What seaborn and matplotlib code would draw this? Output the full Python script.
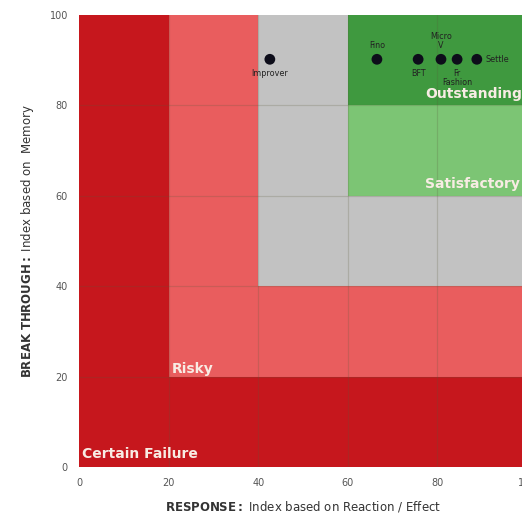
import matplotlib
matplotlib.use('Agg')
import matplotlib.pyplot as plt
import pandas as pd
import seaborn as sns

# zones: drawn largest first, smaller ones on top
zone_names = ['Certain Failure', 'Risky', 'Neutral', 'Satisfactory', 'Outstanding']
zone_x0 = [0, 20, 40, 60, 60]
zone_x1 = [100, 100, 100, 100, 100]
zone_y0 = [0, 20, 40, 60, 80]
zone_y1 = [100, 100, 100, 80, 100]
zone_colors = ['#c6171d', '#e95d5e', '#c2c2c2', '#7cc574', '#3f993f']

# labelled zone text positions
label_text = ['Certain Failure', 'Risky', 'Satisfactory', 'Outstanding']
label_x = [0.6, 20.8, 77.3, 77.3]
label_y = [1.3, 20.2, 61.0, 81.0]

# brands
brands = ['Improver', 'Fino', 'BFT', 'Micro\nV', 'Fr\nFashion', 'Settle']
response = [42.6, 66.5, 75.7, 80.8, 84.4, 88.8]
breakthrough = [90.2, 90.2, 90.2, 90.2, 90.2, 90.2]
label_pos = ['below', 'above', 'below', 'above', 'below', 'right']

ticks = [0, 20, 40, 60, 80, 100]

sns.set_style('white')
plt.rcParams['font.family'] = ['DejaVu Sans']

fig = plt.figure(figsize=(5.22, 5.13), dpi=100)
ax = fig.add_axes([79 / 522, 46 / 513, 448 / 522, 452 / 513])

zones = pd.DataFrame({'name': zone_names, 'x0': zone_x0, 'x1': zone_x1,
                      'y0': zone_y0, 'y1': zone_y1, 'color': zone_colors})
for _, z in zones.iterrows():
    ax.bar(z['x0'], z['y1'] - z['y0'], width=z['x1'] - z['x0'], bottom=z['y0'],
           align='edge', color=z['color'], edgecolor='none', zorder=1)

# faint grid on top of the coloured zones
for t in ticks[1:-1]:
    ax.axvline(t, color='#5a5a3a', alpha=0.22, lw=0.9, zorder=2)
    ax.axhline(t, color='#5a5a3a', alpha=0.22, lw=0.9, zorder=2)

for txt, lx, ly in zip(label_text, label_x, label_y):
    ax.text(lx, ly, txt, color='#f8ece4', fontsize=10, fontweight='bold',
            ha='left', va='bottom', zorder=4)

df = pd.DataFrame({'brand': brands, 'response': response,
                   'breakthrough': breakthrough, 'pos': label_pos})
sns.scatterplot(data=df, x='response', y='breakthrough', color='#0d0d1a',
                s=60, edgecolor='none', ax=ax, zorder=5, legend=False)

for _, r in df.iterrows():
    if r['pos'] == 'below':
        ax.text(r['response'], r['breakthrough'] - 2.2, r['brand'], ha='center',
                va='top', fontsize=5.8, color='#222222', zorder=6, linespacing=1.0)
    elif r['pos'] == 'above':
        ax.text(r['response'], r['breakthrough'] + 2.0, r['brand'], ha='center',
                va='bottom', fontsize=5.8, color='#222222', zorder=6, linespacing=1.1)
    else:
        ax.text(r['response'] + 2.0, r['breakthrough'], r['brand'], ha='left',
                va='center', fontsize=5.8, color='#222222', zorder=6)

ax.set_xlim(0, 100)
ax.set_ylim(0, 100)
ax.set_xticks(ticks)
ax.set_yticks(ticks)
ax.tick_params(length=0, labelsize=7, colors='#555555', pad=8)
for s in ax.spines.values():
    s.set_visible(False)

ax.set_xlabel(r'$\bf{RESPONSE:}$ Index based on Reaction / Effect',
              fontsize=8.5, color='#333333', labelpad=8)
ax.set_ylabel(r'$\bf{BREAK\ THROUGH:}$ Index based on  Memory',
              fontsize=8.5, color='#333333', labelpad=10)

fig.savefig('out.png', dpi=100)
